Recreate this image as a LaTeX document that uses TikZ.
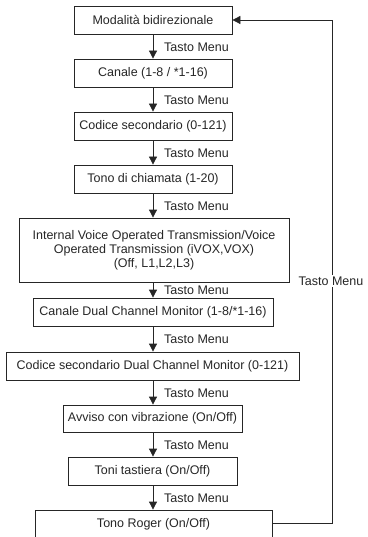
\documentclass[tikz,border=0pt]{standalone}
\usepackage{fontspec}
\setmainfont{Liberation Sans}
\usetikzlibrary{arrows.meta}
\begin{document}
\begin{tikzpicture}[x=1pt,y=-1pt,
  box/.style={draw=black!85, line width=0.8pt, inner sep=0pt, align=center, font=\fontsize{12.5}{13.8}\selectfont, text=black!85},
  lbl/.style={font=\fontsize{12.5}{13.8}\selectfont, text=black!85, inner sep=0pt, anchor=west},
  arr/.style={draw=black!85, line width=0.8pt, -{Triangle[width=8pt,length=8pt]}},
  ln/.style={draw=black!85, line width=0.8pt}]
\useasboundingbox (0,0) rectangle (367,537);
\node[box, minimum width=158pt, minimum height=28pt] (b1) at (153,20) {Modalità bidirezionale};
\node[box, minimum width=158pt, minimum height=28pt] (b2) at (153,73) {Canale (1-8 / *1-16)};
\node[box, minimum width=158pt, minimum height=28pt] (b3) at (153,126) {Codice secondario (0-121)};
\node[box, minimum width=158pt, minimum height=28pt] (b4) at (153,179) {Tono di chiamata (1-20)};
\node[box, minimum width=270pt, minimum height=64pt] (b5) at (154,250) {Internal Voice Operated Transmission/Voice\\Operated Transmission (iVOX,VOX)\\(Off, L1,L2,L3)};
\node[box, minimum width=240pt, minimum height=28pt] (b6) at (153,312) {Canale Dual Channel Monitor (1-8/*1-16)};
\node[box, minimum width=293pt, minimum height=28pt] (b7) at (152.5,366) {Codice secondario Dual Channel Monitor (0-121)};
\node[box, minimum width=179pt, minimum height=27pt] (b8) at (152.5,418.5) {Avviso con vibrazione (On/Off)};
\node[box, minimum width=169pt, minimum height=28pt] (b9) at (152.5,471) {Toni tastiera (On/Off)};
\node[box, minimum width=237pt, minimum height=28pt] (b10) at (153.5,524) {Tono Roger (On/Off)};

\foreach \a/\b/\y in {b1/b2/47, b2/b3/100, b3/b4/153, b4/b5/206, b5/b6/290, b6/b7/339, b7/b8/393, b8/b9/445, b9/b10/498}{
  \draw[arr] (\a.south -| 153,0) -- (\b.north -| 153,0);
  \node[lbl] (l\a) at (164,\y) {Tasto Menu};
}
\coordinate (c1) at (332,523);
\coordinate (c2) at (332,20);
\draw[ln] (b10.east |- c1) -- (c1) -- (c2);
\draw[arr] (c2) -- (b1.east);
\node[font=\fontsize{12.5}{13.8}\selectfont, text=black!85, fill=white, inner xsep=1pt, inner ysep=2pt] (lr) at (331,281) {Tasto Menu};
\end{tikzpicture}
\end{document}
